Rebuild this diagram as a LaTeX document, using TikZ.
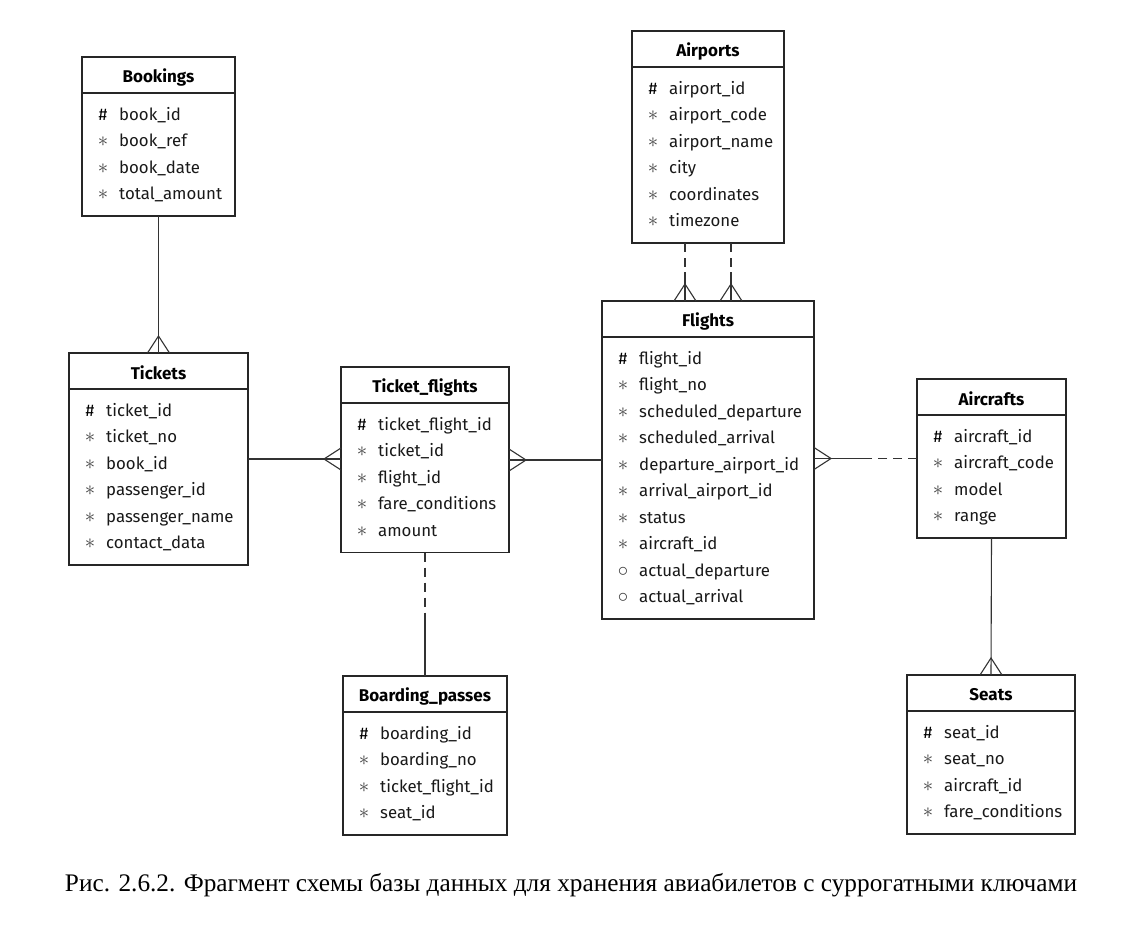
\documentclass[tikz,border=0pt]{standalone}
\usepackage{fontspec}
\usepackage{graphicx}
\setmainfont{Fira Sans}
\newfontfamily\capfont{Liberation Serif}
\usetikzlibrary{calc}

\def\ersymh{\#}
\def\ersyma{\textcolor{black!75}{\fontsize{20}{20}\selectfont$\ast$}}
\def\ersymo{\textcolor{black!75}{\fontsize{21}{20}\selectfont$\circ$}}

\tikzset{
 ent/.style={draw=black!85, line width=1.1pt, anchor=north west, inner sep=0pt, outer sep=0pt, fill=white},
 ttl/.style={font=\fontsize{17}{19}\selectfont\bfseries, anchor=center, inner sep=0pt},
 fld/.style={font=\fontsize{16.8}{19}\selectfont, anchor=mid west, inner sep=0pt, text=black!90},
 erk/.style={font=\fontsize{16.8}{19}\selectfont, anchor=mid, inner sep=0pt},
 rel/.style={line width=1.1pt, draw=black!80},
 reld/.style={rel, dash pattern=on 9pt off 6pt},
}

% name, x1, y1, x2, nrows, title, rows
\newcommand\erent[7]{%
 \pgfmathsetmacro\erw{#4-#2}%
 \pgfmathsetmacro\erh{36+26.5*#5+17}%
 \node[ent, minimum width=\erw pt, minimum height=\erh pt] (#1) at (#2,#3) {};
 \draw[line width=1.1pt, draw=black!85] ([yshift=-36pt]#1.north west) -- ([yshift=-36pt]#1.north east);
 \node[ttl] (#1-t) at ([yshift=-20pt]#1.north) {#6};
 \foreach \s/\t [count=\i] in {#7} {
   \node[erk] (#1-s\i) at ($(#1.north west)+(21,34+26.5*\i)$) {\csname ersym\s\endcsname};
   \node[fld] (#1-f\i) at ($(#1.north west)+(37,34+26.5*\i)$) {\t};
 }
}

\newcommand\crowN[1]{\draw[rel] ($(#1)+(-11,0)$) -- ($(#1)+(0,-17)$) -- ($(#1)+(11,0)$);}
\newcommand\crowW[1]{\draw[rel] ($(#1)+(0,-11)$) -- ($(#1)+(-17,0)$) -- ($(#1)+(0,11)$);}
\newcommand\crowE[1]{\draw[rel] ($(#1)+(0,-11)$) -- ($(#1)+(17,0)$) -- ($(#1)+(0,11)$);}

\begin{document}
\begin{tikzpicture}[x=1pt,y=-1pt]
\fill[white] (0,0) rectangle (1127,942);
\path[use as bounding box] (0,0) rectangle (1127,942);

\erent{bookings}{82}{57}{235}{4}{Bookings}{h/book\_id, a/book\_ref, a/book\_date, a/total\_amount}
\erent{tickets}{69}{353}{248}{6}{Tickets}{h/ticket\_id, a/ticket\_no, a/book\_id, a/passenger\_id, a/passenger\_name, a/contact\_data}
\erent{tflights}{341}{367}{509}{5}{Ticket\_flights}{h/ticket\_flight\_id, a/ticket\_id, a/flight\_id, a/fare\_conditions, a/amount}
\erent{airports}{632}{31}{784}{6}{Airports}{h/airport\_id, a/airport\_code, a/airport\_name, a/city, a/coordinates, a/timezone}
\erent{flights}{602}{301}{814}{10}{Flights}{h/flight\_id, a/flight\_no, a/scheduled\_departure, a/scheduled\_arrival, a/departure\_airport\_id, a/arrival\_airport\_id, a/status, a/aircraft\_id, o/actual\_departure, o/actual\_arrival}
\erent{aircrafts}{917}{379}{1066}{4}{Aircrafts}{h/aircraft\_id, a/aircraft\_code, a/model, a/range}
\erent{bpasses}{343}{676}{507}{4}{Boarding\_passes}{h/boarding\_id, a/boarding\_no, a/ticket\_flight\_id, a/seat\_id}
\erent{seats}{907}{675}{1075}{4}{Seats}{h/seat\_id, a/seat\_no, a/aircraft\_id, a/fare\_conditions}

% Bookings -> Tickets
\draw[rel] (bookings.south) -- (tickets.north);
\crowN{tickets.north}

% Tickets -> Ticket_flights
\coordinate (tfl) at (tickets.east -| tflights.west);
\draw[rel] (tickets.east) -- (tfl);
\crowW{tfl}

% Flights -> Ticket_flights
\coordinate (tfr) at (flights.west -| tflights.east);
\draw[rel] (flights.west) -- (tfr);
\crowE{tfr}

% Airports -> Flights (two)
\coordinate (a1) at ([xshift=-23pt]airports.south);
\coordinate (f1) at (a1 |- flights.north);
\coordinate (m1) at ($(a1)!0.5!(f1)$);
\draw[reld] (a1) -- (m1);
\draw[rel] (m1) -- (f1);
\crowN{f1}
\coordinate (a2) at ([xshift=23pt]airports.south);
\coordinate (f2) at (a2 |- flights.north);
\coordinate (m2) at ($(a2)!0.5!(f2)$);
\draw[reld] (a2) -- (m2);
\draw[rel] (m2) -- (f2);
\crowN{f2}

% Aircrafts -> Flights
\coordinate (fr) at (aircrafts.west -| flights.east);
\coordinate (m3) at ($(fr)!0.5!(aircrafts.west)$);
\draw[reld] (aircrafts.west) -- (m3);
\draw[rel] (m3) -- (fr);
\crowE{fr}

% Aircrafts -> Seats
\draw[rel] (aircrafts.south) -- (seats.north);
\crowN{seats.north}

% Ticket_flights -> Boarding_passes
\coordinate (m4) at ($(tflights.south)!0.5!(bpasses.north)$);
\draw[reld] (tflights.south) -- (m4);
\draw[rel] (m4) -- (bpasses.north);

\node[inner sep=0pt, anchor=center] (cap) at (571,885) {\resizebox{1012pt}{!}{\fontsize{24}{28}\capfont Рис. 2.6.2. Фрагмент схемы базы данных для хранения авиабилетов с суррогатными ключами}};
\end{tikzpicture}
\end{document}
